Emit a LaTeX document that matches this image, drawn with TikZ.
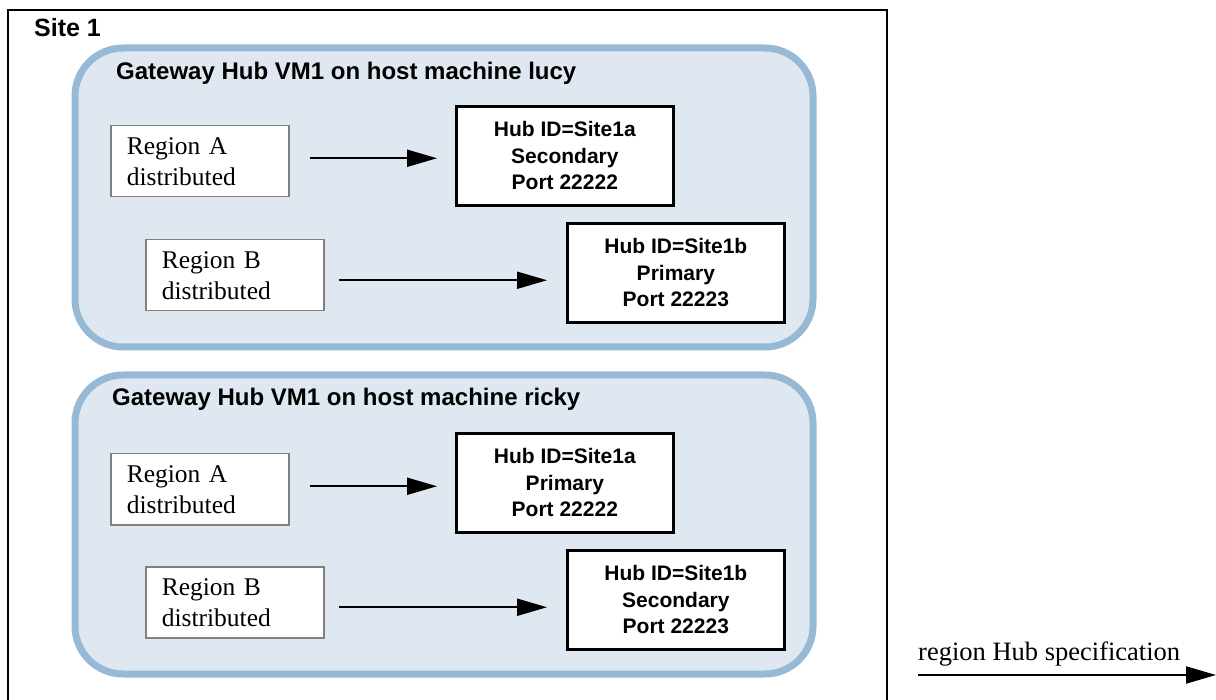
\documentclass[tikz,border=0pt]{standalone}
\usepackage{fontspec}
\setmainfont{Liberation Serif}
\setsansfont{Liberation Sans}
\usetikzlibrary{arrows.meta}
\definecolor{vmfill}{RGB}{223,232,241}
\definecolor{vmedge}{RGB}{150,186,213}
\tikzset{
  vmbox/.style={draw=vmedge, fill=vmfill, line width=7pt, rounded corners=48pt},
  regionbox/.style={draw=gray, fill=white, line width=1.5pt, anchor=north west,
    minimum width=178pt, minimum height=71pt, inner xsep=16pt, text width=146pt,
    align=left, font=\fontsize{25.5}{31}\selectfont},
  hubbox/.style={draw, fill=white, line width=2.7pt, anchor=north west,
    minimum width=217pt, minimum height=99pt, align=center,
    font=\sffamily\bfseries\fontsize{21}{26.5}\selectfont},
  flow/.style={-{Triangle[length=30pt,width=17pt]}, line width=2pt},
  vmtitle/.style={anchor=base west, inner sep=0pt, font=\sffamily\bfseries\fontsize{24}{28}\selectfont}
}
\begin{document}
\begin{tikzpicture}[x=1pt, y=-1pt]
  \useasboundingbox (0,0) rectangle (1216,700);
  % site frame, open at the bottom
  \draw[line width=2pt] (8,702) -- (8,10) -- (887,10) -- (887,702);
  \node[vmtitle, font=\sffamily\bfseries\fontsize{25}{29}\selectfont] (site) at (34,37) {Site 1};

  % host lucy
  \draw[vmbox] (75,48) rectangle (813,347);
  \node[vmtitle] (lucy) at (116,80) {Gateway Hub VM1 on host machine lucy};
  \node[regionbox] (regA1) at (110,125) {Region A\\distributed};
  \node[hubbox] (hubA1) at (455,105) {Hub ID=Site1a\\Secondary\\Port 22222};
  \node[regionbox] (regB1) at (145,239) {Region B\\distributed};
  \node[hubbox] (hubB1) at (566,222) {Hub ID=Site1b\\Primary\\Port 22223};
  \coordinate (fromA1) at ([xshift=20pt,yshift=3pt]regA1.east);
  \coordinate (fromB1) at ([xshift=14pt,yshift=-5pt]regB1.east);
  \draw[flow] (fromA1) -- ([xshift=-18pt]hubA1.west |- fromA1);
  \draw[flow] (fromB1) -- ([xshift=-19pt]hubB1.west |- fromB1);

  % host ricky
  \draw[vmbox] (75,375) rectangle (813,674);
  \node[vmtitle] (ricky) at (112,406) {Gateway Hub VM1 on host machine ricky};
  \node[regionbox] (regA2) at (110,453) {Region A\\distributed};
  \node[hubbox] (hubA2) at (455,432) {Hub ID=Site1a\\Primary\\Port 22222};
  \node[regionbox] (regB2) at (145,566) {Region B\\distributed};
  \node[hubbox] (hubB2) at (566,549) {Hub ID=Site1b\\Secondary\\Port 22223};
  \coordinate (fromA2) at ([xshift=20pt,yshift=3pt]regA2.east);
  \coordinate (fromB2) at ([xshift=14pt,yshift=-5pt]regB2.east);
  \draw[flow] (fromA2) -- ([xshift=-18pt]hubA2.west |- fromA2);
  \draw[flow] (fromB2) -- ([xshift=-19pt]hubB2.west |- fromB2);

  % legend
  \node[anchor=base west, inner sep=0pt, font=\fontsize{26.5}{30}\selectfont] (legtext) at (918,660) {region Hub specification};
  \coordinate (legstart) at (918,675);
  \coordinate (legend) at (1216,675);
  \draw[flow] (legstart) -- (legend);
\end{tikzpicture}
\end{document}
